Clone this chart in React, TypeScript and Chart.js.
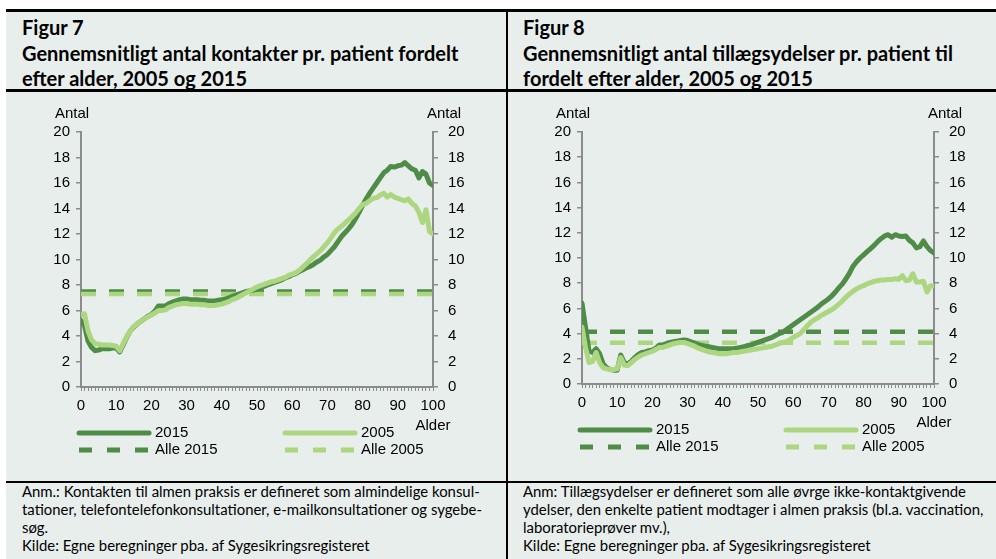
import React, { useEffect, useRef } from "react";
import { Chart, registerables } from "chart.js";
Chart.register(...registerables);

const AGE_MIN = 0;
const AGE_MAX = 100;
const ages: number[] = Array.from({ length: AGE_MAX - AGE_MIN + 1 }, (_, i) => AGE_MIN + i);
const xTickLabels = ["0", "10", "20", "30", "40", "50", "60", "70", "80", "90", "100"];
const yTickStep = 2;

// Figur 7: contacts per patient
const kontakter2015 = [
  5.2, 4.8, 3.6, 3.1, 2.85, 2.9, 3.0, 3.0, 3.0, 3.05,
  3.05, 2.75, 3.3, 3.9, 4.4, 4.7, 4.95, 5.15, 5.35, 5.55,
  5.7, 5.95, 6.35, 6.35, 6.35, 6.55, 6.65, 6.75, 6.85, 6.9,
  6.9, 6.85, 6.85, 6.85, 6.8, 6.8, 6.75, 6.75, 6.75, 6.8,
  6.85, 6.9, 7.0, 7.1, 7.2, 7.3, 7.4, 7.5, 7.55, 7.6,
  7.7, 7.8, 7.9, 8.0, 8.1, 8.2, 8.3, 8.4, 8.55, 8.65,
  8.8, 8.9, 9.05, 9.2, 9.35, 9.45, 9.6, 9.8, 9.95, 10.2,
  10.4, 10.7, 11.0, 11.4, 11.8, 12.1, 12.4, 12.75, 13.2, 13.7,
  14.25, 14.75, 15.2, 15.6, 16.0, 16.4, 16.8, 17.0, 17.3, 17.25,
  17.35, 17.4, 17.6, 17.35, 17.1, 17.0, 16.4, 16.9, 16.7, 16.0,
  15.8,
];
const kontakter2005 = [
  5.7, 5.75, 4.4, 3.7, 3.4, 3.35, 3.3, 3.3, 3.3, 3.25,
  3.2, 2.85, 3.4, 3.95, 4.4, 4.75, 4.95, 5.15, 5.35, 5.5,
  5.65, 5.8, 6.0, 6.0, 6.05, 6.25, 6.35, 6.45, 6.5, 6.55,
  6.55, 6.5, 6.5, 6.5, 6.45, 6.45, 6.4, 6.4, 6.4, 6.45,
  6.5, 6.6, 6.7, 6.85, 6.95, 7.1, 7.25, 7.4, 7.55, 7.7,
  7.85, 7.95, 8.05, 8.15, 8.25, 8.3, 8.4, 8.5, 8.6, 8.75,
  8.85, 8.95, 9.15, 9.4, 9.65, 9.95, 10.2, 10.45, 10.7, 11.0,
  11.3, 11.7, 12.1, 12.4, 12.6, 12.85, 13.1, 13.35, 13.65, 14.0,
  14.3, 14.4, 14.6, 14.8, 14.85, 15.05, 15.2, 14.9, 15.1, 14.9,
  14.8, 14.7, 14.6, 14.75, 14.4, 14.2, 13.7, 12.9, 13.9, 12.2,
  12.0,
];
const kontakterAlle2015 = 7.5;
const kontakterAlle2005 = 7.3;

// Figur 8: additional services per patient
const ydelser2015 = [
  6.4, 4.5, 2.6, 2.5, 2.8, 2.4, 1.6, 1.3, 1.15, 1.1,
  1.1, 2.3, 1.7, 1.6, 1.8, 2.1, 2.35, 2.5, 2.55, 2.65,
  2.7, 2.85, 3.1, 3.1, 3.2, 3.3, 3.35, 3.4, 3.45, 3.5,
  3.45, 3.35, 3.25, 3.15, 3.05, 3.0, 2.95, 2.9, 2.85, 2.8,
  2.8, 2.8, 2.8, 2.8, 2.85, 2.9, 2.95, 3.05, 3.1, 3.2,
  3.3, 3.4, 3.5, 3.6, 3.7, 3.85, 4.0, 4.1, 4.3, 4.5,
  4.7, 4.9, 5.1, 5.3, 5.5, 5.7, 5.9, 6.1, 6.35, 6.55,
  6.75, 7.0, 7.3, 7.65, 7.95, 8.35, 8.8, 9.35, 9.7, 10.0,
  10.25, 10.5, 10.75, 11.0, 11.3, 11.55, 11.75, 11.85, 11.65, 11.85,
  11.75, 11.7, 11.75, 11.4, 11.2, 10.8, 10.9, 11.35, 10.9, 10.6,
  10.4,
];
const ydelser2005 = [
  4.5, 2.9, 1.7, 1.8, 2.5, 1.7, 1.3, 1.2, 1.15, 1.15,
  1.2, 2.1, 1.5, 1.45, 1.7, 1.95, 2.15, 2.3, 2.4, 2.5,
  2.6, 2.75, 2.9, 2.9, 3.0, 3.1, 3.2, 3.25, 3.3, 3.3,
  3.2, 3.1, 3.0, 2.85, 2.75, 2.65, 2.55, 2.5, 2.45, 2.4,
  2.4, 2.4, 2.45, 2.5, 2.5, 2.55, 2.6, 2.65, 2.7, 2.75,
  2.8, 2.85, 2.9, 2.95, 3.0, 3.1, 3.2, 3.3, 3.35, 3.5,
  3.7, 3.85, 4.0, 4.3, 4.6, 4.9, 5.1, 5.25, 5.45, 5.6,
  5.75, 5.9, 6.1, 6.35, 6.6, 6.9, 7.15, 7.35, 7.55, 7.7,
  7.8, 7.95, 8.05, 8.15, 8.2, 8.25, 8.25, 8.3, 8.3, 8.35,
  8.3, 8.6, 8.2, 8.25, 8.75, 8.1, 8.1, 8.15, 7.3, 7.8,
  7.8,
];
const ydelserAlle2015 = 4.15;
const ydelserAlle2005 = 3.28;

const seriesLabels = ["2015", "2005", "Alle 2015", "Alle 2005"];

const DARK = "#4f8c48";
const LIGHT = "#acd780";
const AXIS = "#8c8c8c";
const BG = "#e8eeec";
const FONT = '"Liberation Sans", Arial, sans-serif';
const TXTFONT = 'Lato, "Open Sans", sans-serif';

const overlayPlugin = {
  id: "overlay",
  afterDraw(chart: any) {
    const { ctx, chartArea: a } = chart;
    ctx.save();
    ctx.font = `15px ${FONT}`;
    ctx.fillStyle = "#000";
    ctx.textAlign = "center";
    ctx.textBaseline = "middle";
    ctx.fillText("Antal", a.left - 9, a.top - 18);
    ctx.fillText("Antal", a.right + 11, a.top - 18);
    ctx.fillText("Alder", a.right, a.bottom + 39);
    const ds = chart.data.datasets;
    const pos = [
      { idx: 1, col: 0, row: 0 },
      { idx: 0, col: 1, row: 0 },
      { idx: 3, col: 0, row: 1 },
      { idx: 2, col: 1, row: 1 },
    ];
    for (const p of pos) {
      const d = ds[p.idx];
      const x0 = a.left - 2 + p.col * 206;
      const y = a.bottom + 46 + p.row * 17;
      ctx.beginPath();
      ctx.strokeStyle = d.borderColor;
      ctx.lineWidth = 5;
      ctx.lineCap = d.borderDash && d.borderDash.length ? "butt" : "round";
      ctx.setLineDash(d.borderDash && d.borderDash.length ? [13, 15] : []);
      ctx.moveTo(x0, y);
      ctx.lineTo(x0 + 70, y);
      ctx.stroke();
      ctx.setLineDash([]);
      ctx.textAlign = "left";
      ctx.fillText(d.label, x0 + 76, y);
    }
    ctx.restore();
  },
};

function makeConfig(s15: number[], s05: number[], all15: number, all05: number, geo: any) {
  const pts = (arr: number[]) => ages.map((a, i) => ({ x: a, y: arr[i] }));
  const flat = (v: number) => [
    { x: AGE_MIN, y: v },
    { x: AGE_MAX, y: v },
  ];
  return {
    type: "line",
    data: {
      datasets: [
        { label: seriesLabels[1], data: pts(s05), borderColor: LIGHT, borderWidth: 5, pointRadius: 0, borderJoinStyle: "round", borderCapStyle: "round", tension: 0 },
        { label: seriesLabels[0], data: pts(s15), borderColor: DARK, borderWidth: 5, pointRadius: 0, borderJoinStyle: "round", borderCapStyle: "round", tension: 0 },
        { label: seriesLabels[3], data: flat(all05), borderColor: LIGHT, borderWidth: 4.5, pointRadius: 0, borderDash: [15, 13] },
        { label: seriesLabels[2], data: flat(all15), borderColor: DARK, borderWidth: 4.5, pointRadius: 0, borderDash: [15, 13] },
      ],
    },
    options: {
      responsive: false,
      animation: false,
      devicePixelRatio: 1,
      layout: { padding: { top: geo.top, left: 0, right: 0, bottom: 0 } },
      plugins: { legend: { display: false }, tooltip: { enabled: false }, title: { display: false } },
      scales: {
        x: {
          type: "linear",
          min: AGE_MIN,
          max: AGE_MAX,
          afterFit: (s: any) => { s.height = geo.xh; },
          ticks: {
            stepSize: 1,
            autoSkip: false,
            maxRotation: 0,
            padding: 6,
            color: "#000",
            font: { family: FONT, size: 15 },
            callback: (v: number) => (xTickLabels.includes(String(v)) ? String(v) : ""),
          },
          grid: { drawOnChartArea: false, drawTicks: true, tickLength: 4, color: AXIS, lineWidth: 1 },
          border: { display: true, color: AXIS, width: 2 },
        },
        y: {
          position: "left",
          min: 0,
          max: 20,
          afterFit: (s: any) => { s.width = geo.yl; },
          ticks: { stepSize: yTickStep, padding: 6, color: "#000", font: { family: FONT, size: 15 } },
          grid: { drawOnChartArea: false, drawTicks: true, tickLength: 5, color: AXIS, lineWidth: 1.5 },
          border: { display: true, color: AXIS, width: 2 },
        },
        y2: {
          position: "right",
          min: 0,
          max: 20,
          afterFit: (s: any) => { s.width = geo.yr; },
          ticks: { stepSize: yTickStep, padding: 10, color: "#000", font: { family: FONT, size: 15 } },
          grid: { drawOnChartArea: false, drawTicks: true, tickLength: 5, color: AXIS, lineWidth: 1.5 },
          border: { display: true, color: AXIS, width: 2 },
        },
      },
    },
    plugins: [overlayPlugin],
  };
}

const titleStyle: React.CSSProperties = {
  position: "absolute",
  top: 15,
  fontFamily: TXTFONT,
  fontWeight: 700,
  fontSize: 20,
  lineHeight: "25.5px",
  color: "#000",
  whiteSpace: "nowrap",
};
const noteStyle: React.CSSProperties = {
  position: "absolute",
  top: 482,
  fontFamily: TXTFONT,
  fontSize: 14.9,
  lineHeight: "18px",
  color: "#000",
  whiteSpace: "nowrap",
};

export default function App() {
  const c1 = useRef<HTMLCanvasElement>(null);
  const c2 = useRef<HTMLCanvasElement>(null);
  useEffect(() => {
    const ch1 = new Chart(c1.current as any, makeConfig(kontakter2015, kontakter2005, kontakterAlle2015, kontakterAlle2005, { top: 40, xh: 94, yl: 75, yr: 73 }) as any);
    const ch2 = new Chart(c2.current as any, makeConfig(ydelser2015, ydelser2005, ydelserAlle2015, ydelserAlle2005, { top: 40, xh: 97, yl: 74, yr: 62 }) as any);
    return () => {
      ch1.destroy();
      ch2.destroy();
    };
  }, []);
  const bar = (l: number, t: number, w: number, h: number) => (
    <div style={{ position: "absolute", left: l, top: t, width: w, height: h, background: "#000" }} />
  );
  return (
    <div style={{ position: "fixed", left: 0, top: 0, width: 996, height: 559, background: "#fff", overflow: "hidden" }}>
      <div style={{ position: "absolute", left: 6, top: 12, width: 990, height: 547, background: BG }} />
      {bar(6, 9, 990, 3)}
      {bar(6, 89, 990, 3)}
      {bar(6, 481, 990, 2)}
      {bar(506, 12, 2, 547)}
      <div style={{ ...titleStyle, left: 22 }}>
        Figur 7<br />
        Gennemsnitligt antal kontakter pr. patient fordelt<br />
        efter alder, 2005 og 2015
      </div>
      <div style={{ ...titleStyle, left: 523 }}>
        Figur 8<br />
        Gennemsnitligt antal tillægsydelser pr. patient til<br />
        fordelt efter alder, 2005 og 2015
      </div>
      <canvas ref={c1} width={500} height={389} style={{ position: "absolute", left: 6, top: 92, width: 500, height: 389 }} />
      <canvas ref={c2} width={488} height={389} style={{ position: "absolute", left: 508, top: 92, width: 488, height: 389 }} />
      <div style={{ ...noteStyle, left: 22 }}>
        Anm.: Kontakten til almen praksis er defineret som almindelige konsul-<br />
        tationer, telefontelefonkonsultationer, e-mailkonsultationer og sygebe-<br />
        søg.<br />
        Kilde: Egne beregninger pba. af Sygesikringsregisteret
      </div>
      <div style={{ ...noteStyle, left: 523 }}>
        Anm: Tillægsydelser er defineret som alle øvrge ikke-kontaktgivende<br />
        ydelser, den enkelte patient modtager i almen praksis (bl.a. vaccination,<br />
        laboratorieprøver mv.),<br />
        Kilde: Egne beregninger pba. af Sygesikringsregisteret
      </div>
    </div>
  );
}
